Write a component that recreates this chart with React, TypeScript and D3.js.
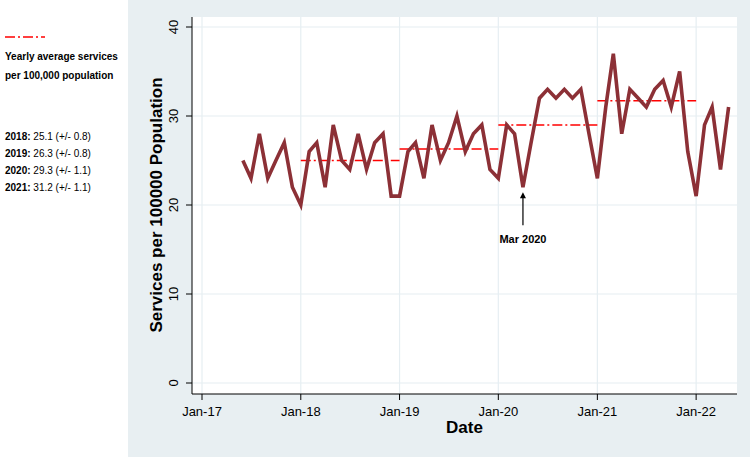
import React from "react";
import * as d3 from "d3";

// ---- data ----
const startYear = 2017;
const startMonth = 5; // June (0-based)
const serviceValues = [
  25, 23, 28, 23, 25, 27, 22, // 2017 Jun-Dec
  20, 26, 27, 22, 29, 25, 24, 28, 24, 27, 28, 21, // 2018
  21, 26, 27, 23, 29, 25, 27, 30, 26, 28, 29, 24, // 2019
  23, 29, 28, 22, 27, 32, 33, 32, 33, 32, 33, 28, // 2020
  23, 31, 37, 28, 33, 32, 31, 33, 34, 31, 35, 26, // 2021
  21, 29, 31, 24, 31, // 2022 Jan-May
];
const avgYears = [2018, 2019, 2020, 2021];
const avgLineValues = [25.0, 26.3, 29.0, 31.7];
const legendMeans = ["25.1", "26.3", "29.3", "31.2"];
const legendErrors = ["0.8", "0.8", "1.1", "1.1"];
const xTickYears = [2017, 2018, 2019, 2020, 2021, 2022];
const xTickLabels = ["Jan-17", "Jan-18", "Jan-19", "Jan-20", "Jan-21", "Jan-22"];
const yTicks = [0, 10, 20, 30, 40];
const annotationDate = new Date(2020, 3, 1);
const annotationValue = 22;
const annotationLabel = "Mar 2020";

const FONT = "'Liberation Sans', Arial, Helvetica, sans-serif";

export default function App() {
  const W = 750, H = 458;
  const plot = { left: 192, right: 737, top: 17, bottom: 394 };
  const x = d3.scaleTime()
    .domain([new Date(2016, 10, 25), new Date(2022, 5, 1)])
    .range([plot.left, plot.right]);
  const y = d3.scaleLinear().domain([0, 40]).range([383, 27]);

  const data = serviceValues.map((v, i) => ({
    date: new Date(startYear, startMonth + i, 1),
    value: v,
  }));
  const line = d3.line<{ date: Date; value: number }>()
    .x((d) => x(d.date))
    .y((d) => y(d.value));

  const ax = x(annotationDate);
  const ay = y(annotationValue);

  return (
    <svg width={W} height={H} style={{ position: "fixed", left: 0, top: 0 }} fontFamily={FONT}>
      <rect x={0} y={0} width={W} height={H} fill="#ffffff" />
      <rect x={128} y={0} width={W - 128} height={457} fill="#e8eff2" />
      <rect x={plot.left} y={plot.top} width={plot.right - plot.left} height={plot.bottom - plot.top} fill="#ffffff" />

      {/* gridlines */}
      {yTicks.map((t) => (
        <line key={"gy" + t} x1={plot.left} x2={plot.right} y1={y(t)} y2={y(t)} stroke="#e6eef2" strokeWidth={1.2} />
      ))}
      {xTickYears.map((yr) => (
        <line key={"gx" + yr} x1={x(new Date(yr, 0, 1))} x2={x(new Date(yr, 0, 1))} y1={plot.top} y2={plot.bottom} stroke="#e6eef2" strokeWidth={1.2} />
      ))}

      {/* axes */}
      <line x1={plot.left} x2={plot.left} y1={plot.top} y2={plot.bottom} stroke="#000" strokeWidth={1} />
      <line x1={plot.left} x2={plot.right} y1={plot.bottom} y2={plot.bottom} stroke="#000" strokeWidth={1} />
      {yTicks.map((t) => (
        <g key={"yt" + t}>
          <line x1={plot.left - 6} x2={plot.left} y1={y(t)} y2={y(t)} stroke="#000" strokeWidth={1} />
          <text transform={`translate(178,${y(t)}) rotate(-90)`} textAnchor="middle" fontSize={13} fill="#000">{t}</text>
        </g>
      ))}
      {xTickYears.map((yr, i) => (
        <g key={"xt" + yr}>
          <line x1={x(new Date(yr, 0, 1))} x2={x(new Date(yr, 0, 1))} y1={plot.bottom} y2={plot.bottom + 6} stroke="#000" strokeWidth={1} />
          <text x={x(new Date(yr, 0, 1))} y={416} textAnchor="middle" fontSize={13} fill="#000">{xTickLabels[i]}</text>
        </g>
      ))}
      <text x={(plot.left + plot.right) / 2} y={433} textAnchor="middle" fontSize={17} fontWeight="bold">Date</text>
      <text transform={`translate(162,${(y(0) + y(40)) / 2}) rotate(-90)`} textAnchor="middle" fontSize={17} fontWeight="bold">Services per 100000 Population</text>

      {/* yearly averages */}
      {avgYears.map((yr, i) => (
        <line key={"avg" + yr} x1={x(new Date(yr, 0, 1))} x2={x(new Date(yr + 1, 0, 1))} y1={y(avgLineValues[i])} y2={y(avgLineValues[i])}
          stroke="#ff0000" strokeWidth={1.5} strokeDasharray="10,3,2,3" />
      ))}

      {/* series */}
      <path d={line(data) || ""} fill="none" stroke="#8c3036" strokeWidth={3.6} strokeLinejoin="miter" strokeMiterlimit={4} />

      {/* annotation */}
      <line x1={ax} x2={ax} y1={ay + 38} y2={ay + 9} stroke="#000" strokeWidth={1.2} />
      <path d={`M${ax},${ay + 5} L${ax - 3},${ay + 11} L${ax + 3},${ay + 11} Z`} fill="#000" />
      <text x={ax} y={ay + 56} textAnchor="middle" fontSize={11} fontWeight="bold">{annotationLabel}</text>

      {/* legend */}
      <line x1={5} x2={45} y1={37} y2={37} stroke="#ff0000" strokeWidth={1.5} strokeDasharray="10,3,2,3" />
      <text x={5} y={60} fontSize={10} fontWeight="bold">Yearly average services</text>
      <text x={5} y={79} fontSize={10} fontWeight="bold">per 100,000 population</text>
      {avgYears.map((yr, i) => (
        <text key={"lg" + yr} x={5} y={140 + i * 17} fontSize={10}>
          <tspan fontWeight="bold">{yr}:</tspan>
          <tspan>{` ${legendMeans[i]} (+/- ${legendErrors[i]})`}</tspan>
        </text>
      ))}
    </svg>
  );
}
